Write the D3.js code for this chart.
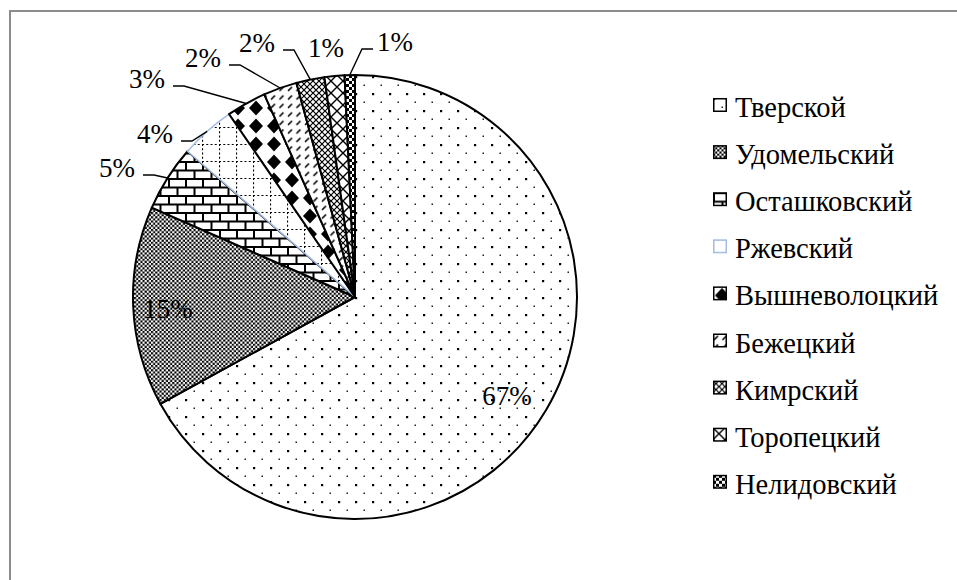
<!DOCTYPE html>
<html>
<head>
<meta charset="utf-8">
<script src="https://cdn.jsdelivr.net/npm/d3@7"></script>
<style>
  body { margin: 0; background: #fff; }
  svg { display: block; }
  text { fill: #000; }
</style>
</head>
<body>
<div class="chart"></div>
<script>
// data
const categories = ['Тверской', 'Удомельский', 'Осташковский', 'Ржевский', 'Вышневолоцкий',
  'Бежецкий', 'Кимрский', 'Торопецкий', 'Нелидовский'];
const values = [67.0, 14.6, 4.8, 4.0, 2.9, 2.45, 2.05, 1.45, 0.75];
const patternIds = ['pDots', 'pCheck', 'pBrick', 'pDotGrid', 'pDiamond', 'pDashUp', 'pSmGrid', 'pLgGrid', 'pSquares'];

// label layout (relative to pie centre, text middle / baseline) and whether a leader line is drawn
const labelOffsets = [[152, 108], [-187, 21], [-238, -120], [-200, -154], [-208, -209],
  [-152, -230], [-98, -245], [-29, -240], [40, -246]];
const hasLeader = [false, false, true, true, true, true, true, false, true];

const width = 957, height = 580;
const cx = 355, cy = 297, radius = 222;
const serif = '"Liberation Serif", "Times New Roman", serif';

const svg = d3.select('.chart').append('svg')
  .attr('width', width)
  .attr('height', height);

// frame (runs off the right and bottom edges)
svg.append('rect')
  .attr('x', 10).attr('y', 11)
  .attr('width', 1000).attr('height', 1000)
  .attr('fill', 'none')
  .attr('stroke', '#8c8c8c')
  .attr('stroke-width', 2);

const defs = svg.append('defs');
function pattern(id, w, h) {
  const p = defs.append('pattern')
    .attr('id', id)
    .attr('patternUnits', 'userSpaceOnUse')
    .attr('width', w).attr('height', h);
  p.append('rect').attr('width', w).attr('height', h).attr('fill', '#fff');
  return p;
}

// Тверской - sparse dots
let p = pattern('pDots', 17, 17);
p.append('rect').attr('x', 0).attr('y', 0).attr('width', 2.2).attr('height', 2.2).attr('fill', '#000');
p.append('rect').attr('x', 8.5).attr('y', 8.5).attr('width', 1.5).attr('height', 1.5).attr('fill', '#222');

// Удомельский - fine checker
p = pattern('pCheck', 4.25, 4.25);
p.append('rect').attr('x', 0).attr('y', 0).attr('width', 2.125).attr('height', 2.125).attr('fill', '#000');
p.append('rect').attr('x', 2.125).attr('y', 2.125).attr('width', 2.125).attr('height', 2.125).attr('fill', '#000');

// Осташковский - bricks
p = pattern('pBrick', 17, 17);
p.append('path')
  .attr('d', 'M0,1H17M0,9.5H17M1,1V9.5M9.5,9.5V17')
  .attr('stroke', '#000').attr('stroke-width', 2).attr('fill', 'none');

// Ржевский - dotted grid
p = pattern('pDotGrid', 17, 17);
p.append('path')
  .attr('d', 'M0,0.5H17M0.5,0V17')
  .attr('stroke', '#000').attr('stroke-width', 1.2).attr('fill', 'none')
  .attr('stroke-dasharray', '2,2.25');

// Вышневолоцкий - solid diamonds
p = pattern('pDiamond', 18, 18);
p.append('path')
  .attr('d', 'M9,1.5L16,9L9,16.5L2,9Z')
  .attr('fill', '#000');

// Бежецкий - dashed upward diagonal
p = pattern('pDashUp', 8.5, 8.5);
p.append('path')
  .attr('d', 'M1,6.5L5,2.5')
  .attr('stroke', '#000').attr('stroke-width', 1.4);

// Кимрский - small diagonal grid
p = pattern('pSmGrid', 6, 6);
p.append('path')
  .attr('d', 'M0,0L6,6M0,6L6,0')
  .attr('stroke', '#000').attr('stroke-width', 1.2);

// Торопецкий - large diagonal grid
p = pattern('pLgGrid', 12, 12);
p.append('path')
  .attr('d', 'M0,0L12,12M0,12L12,0')
  .attr('stroke', '#000').attr('stroke-width', 1.4);

// Нелидовский - small squares
p = pattern('pSquares', 6, 6);
p.append('rect').attr('x', 0).attr('y', 0).attr('width', 3).attr('height', 3).attr('fill', '#000');
p.append('rect').attr('x', 3).attr('y', 3).attr('width', 3).attr('height', 3).attr('fill', '#000');

const strokeColor = (d, i) => i === 3 ? '#a6bde3' : '#000';

const pie = d3.pie().sort(null).value(d => d);
const arcs = pie(values);
const total = d3.sum(values);
const arc = d3.arc().innerRadius(0).outerRadius(radius);
const edgeArc = d3.arc().innerRadius(radius).outerRadius(radius);

const g = svg.append('g').attr('transform', `translate(${cx},${cy})`);

g.selectAll('path.slice')
  .data(arcs)
  .enter().append('path')
  .attr('class', 'slice')
  .attr('d', arc)
  .attr('fill', (d, i) => `url(#${patternIds[i]})`)
  .attr('stroke', (d, i) => strokeColor(d, i))
  .attr('stroke-width', (d, i) => i === 3 ? 1.5 : 2)
  .attr('stroke-linejoin', 'round');

// percent labels
const labels = g.selectAll('text.pct')
  .data(arcs)
  .enter().append('text')
  .attr('class', 'pct')
  .attr('x', (d, i) => labelOffsets[i][0])
  .attr('y', (d, i) => labelOffsets[i][1])
  .attr('text-anchor', 'middle')
  .attr('font-family', serif)
  .attr('font-size', 27)
  .text(d => Math.round(d.value / total * 100) + '%');

// leader lines
labels.each(function(d, i) {
  if (!hasLeader[i]) return;
  const w = this.getComputedTextLength();
  const [lx, ly] = labelOffsets[i];
  const [ax, ay] = edgeArc.centroid(d);
  const lineY = ly - 2;
  let x0, x1;
  if (ax > lx + w / 2) {
    x0 = lx + w / 2 + 8; x1 = x0 + 11;
  } else {
    x0 = lx - w / 2 - 4; x1 = x0 - 11;
  }
  g.append('path')
    .attr('d', `M${x0},${lineY}L${x1},${lineY}L${ax},${ay}`)
    .attr('fill', 'none')
    .attr('stroke', '#000')
    .attr('stroke-width', 1.4);
});

// legend
const legend = svg.append('g').attr('transform', 'translate(713,98)');
const item = legend.selectAll('g')
  .data(categories)
  .enter().append('g')
  .attr('transform', (d, i) => `translate(0,${i * 47.1})`);

item.append('rect')
  .attr('x', 0.75).attr('y', 0.75)
  .attr('width', 12.5).attr('height', 12.5)
  .attr('fill', (d, i) => `url(#${patternIds[i]})`)
  .attr('stroke', (d, i) => strokeColor(d, i))
  .attr('stroke-width', 1.5);

item.append('text')
  .attr('x', 22)
  .attr('y', 19)
  .attr('font-family', serif)
  .attr('font-size', 28.5)
  .text(d => d);
</script>
</body>
</html>
